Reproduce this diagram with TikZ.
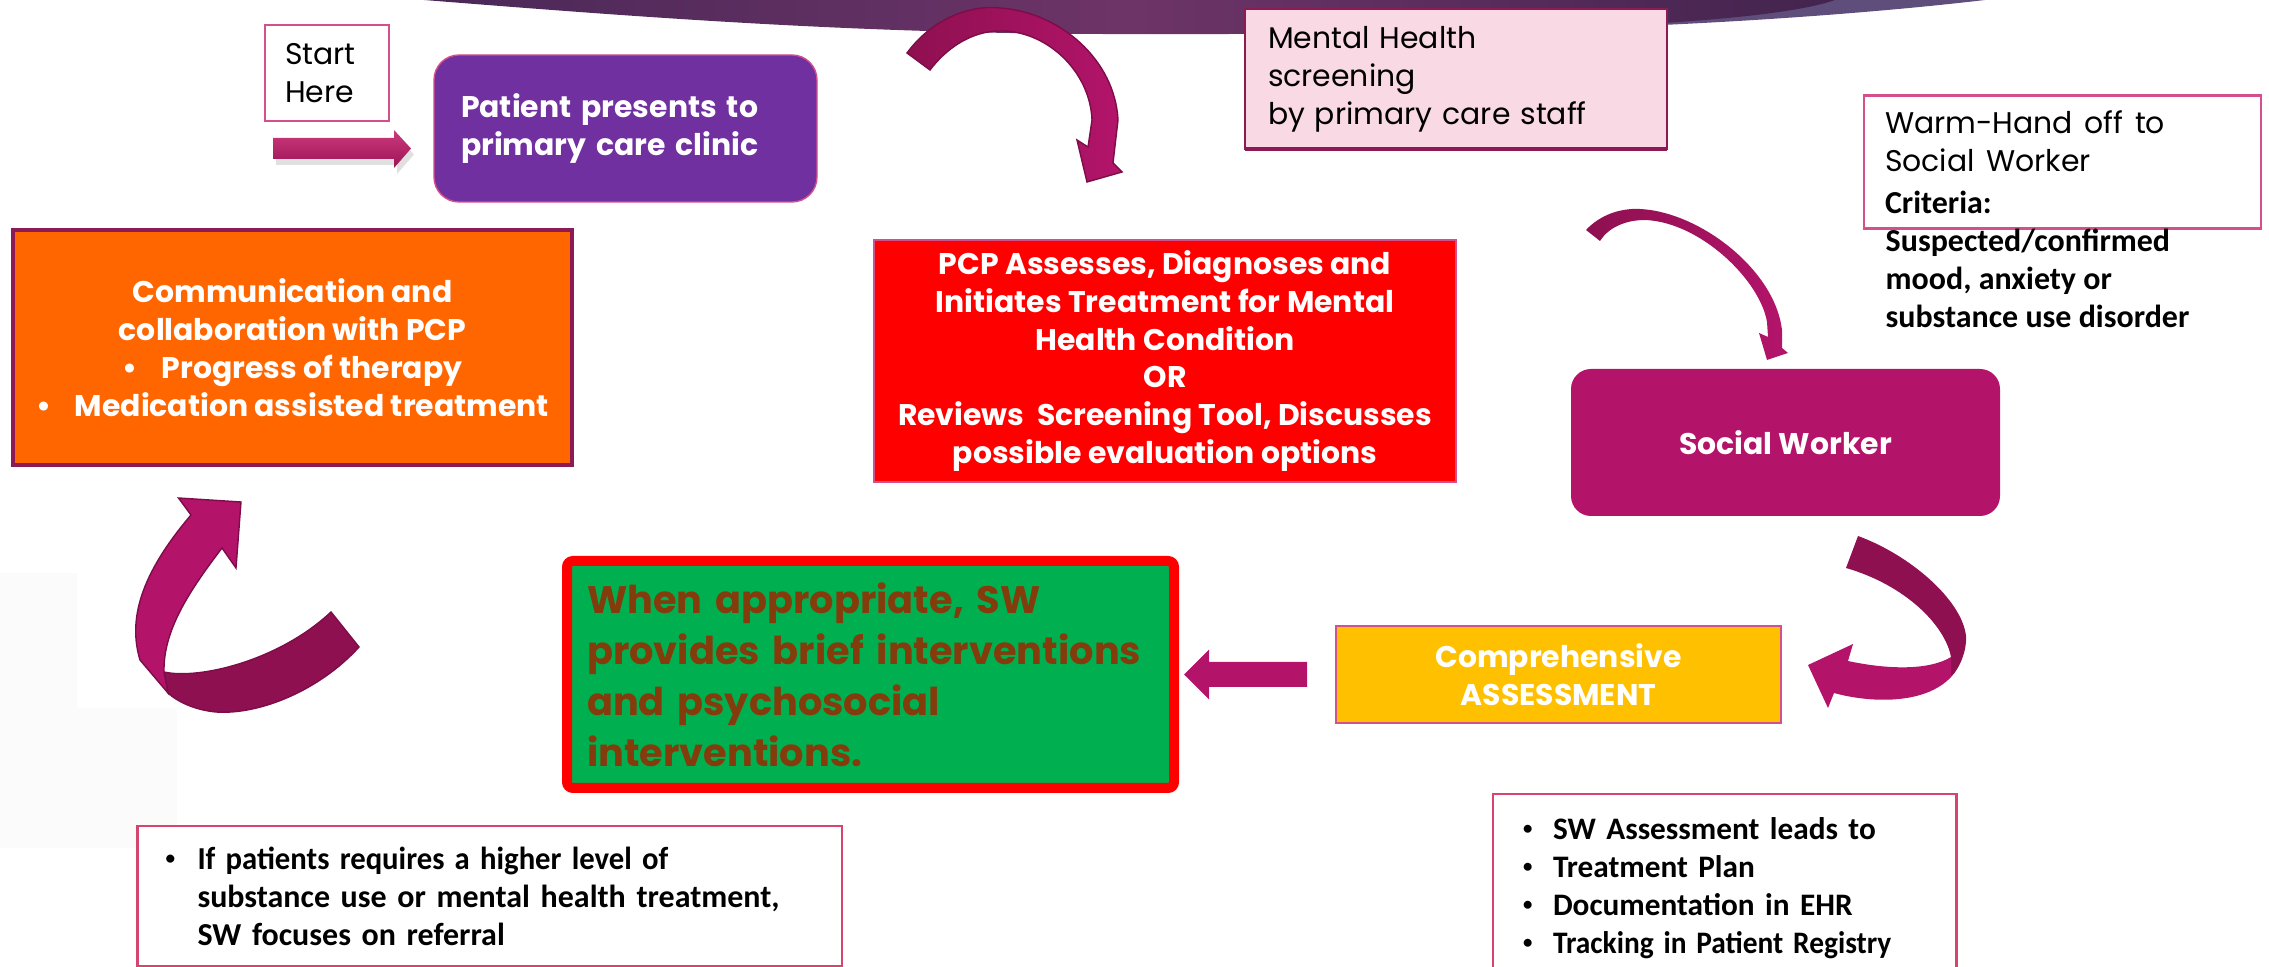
\documentclass[tikz,border=0pt]{standalone}
\usepackage{fontspec}
\usepackage{graphicx}
\usetikzlibrary{calc}
\newfontfamily\gothic{Poppins}
\newfontfamily\calib{Carlito}
\hyphenpenalty=10000
\exhyphenpenalty=10000

% type sizes used on the chart
\newcommand\regtext{\gothic\fontsize{8.5}{10.8}\selectfont}
\newcommand\boldtext{\gothic\bfseries\fontsize{8.5}{10.8}\selectfont}
\newcommand\calbold{\calib\bfseries\fontsize{9.1}{10.8}\selectfont}
\newcommand\planbold{\calib\bfseries\fontsize{8.9}{10.8}\selectfont}
\newcommand\brieftext{\gothic\bfseries\fontsize{10.9}{14.5}\selectfont}
\newcommand\bul[1]{\makebox[#1][l]{\raisebox{0.3ex}{\scalebox{0.6}{\textbullet}}}}

\definecolor{clinicPurple}{HTML}{7030A0}
\definecolor{magentaA}{HTML}{B3146A}
\definecolor{magentaDark}{HTML}{8E1050}
\definecolor{arrowEdge}{HTML}{7E0C48}
\definecolor{pcpRed}{HTML}{FF0000}
\definecolor{commOrange}{HTML}{FF6600}
\definecolor{assessGold}{HTML}{FFC000}
\definecolor{swGreen}{HTML}{00B050}
\definecolor{swBrown}{HTML}{843C0C}
\definecolor{screenPink}{HTML}{F9D9E3}
\definecolor{edgePink}{HTML}{D4508C}
\definecolor{edgeWine}{HTML}{8B1A55}
\definecolor{edgeRose}{HTML}{D4456F}
\definecolor{bannerDark}{HTML}{4A2858}
\definecolor{bannerMid}{HTML}{6D3467}
\definecolor{bannerRight}{HTML}{43244F}
\definecolor{bannerLight}{HTML}{5F4E7B}
\definecolor{startTop}{HTML}{CC3A7C}
\definecolor{startBottom}{HTML}{9C1457}

\tikzset{
  box/.style={inner ysep=0pt, outer sep=0pt},
  startbox/.style={box, draw=edgePink, line width=0.5pt, fill=white,
    minimum height=9.6mm, text width=8.4mm, inner xsep=2mm, align=left, font=\regtext},
  clinicbox/.style={box, rounded corners=2.5mm, fill=clinicPurple, draw=edgePink,
    line width=0.4pt, minimum height=14.7mm, text width=32.9mm, inner xsep=2.7mm,
    align=left, text=white, font=\boldtext},
  screenbox/.style={box, fill=screenPink, draw=edgeWine, line width=0.7pt,
    minimum height=14mm, text width=37.6mm, inner xsep=2.3mm, align=left, font=\regtext},
  warmbox/.style={box, fill=white, draw=edgePink, line width=0.6pt,
    minimum height=13.3mm, text width=35.5mm, inner xsep=2.1mm, align=left},
  crittext/.style={inner sep=0pt, align=left, font=\calbold},
  pcpbox/.style={box, inner xsep=0pt, fill=pcpRed, draw=edgePink, line width=0.3pt,
    minimum width=58.2mm, minimum height=24.2mm, align=center, text=white, font=\boldtext},
  commbox/.style={box, inner xsep=0pt, fill=commOrange, draw=edgeWine, line width=1.1pt,
    minimum width=55.9mm, minimum height=23.5mm, align=center, text=white, font=\boldtext},
  swbox/.style={box, inner xsep=0pt, rounded corners=2mm, fill=magentaA,
    minimum width=42.9mm, minimum height=14.7mm, align=center, text=white, font=\boldtext},
  assessbox/.style={box, inner xsep=0pt, fill=assessGold, draw=edgePink, line width=0.4pt,
    minimum width=44.5mm, minimum height=9.7mm, align=center, text=white, font=\boldtext},
  briefbox/.style={box, fill=swGreen, draw=pcpRed, line width=1mm, rounded corners=0.6mm,
    minimum height=22.7mm, text width=56.7mm, inner xsep=2mm, align=left,
    text=swBrown, font=\brieftext},
  listbox/.style={box, fill=white, draw=edgeRose, line width=0.6pt, align=left, font=\calbold},
  ribbonfront/.style={fill=magentaA, draw=arrowEdge, line width=0.4pt},
  ribbonback/.style={fill=magentaDark, draw=arrowEdge, line width=0.4pt},
  ribbonshade/.style={left color=magentaDark, right color=magentaA, draw=arrowEdge, line width=0.4pt},
}

\begin{document}
\begin{tikzpicture}[x=0.1mm,y=-0.1mm]
\path[use as bounding box] (0,0) rectangle (2269,967);
\clip (0,0) rectangle (2269,967);

% header swoosh
\fill[bannerLight] (1560,-10) -- (1995,-10) -- (1985,0)
  .. controls (1900,10) and (1780,20) .. (1640,26) -- cycle;
\path[left color=bannerDark, right color=bannerRight, middle color=bannerMid]
  (424,-10) -- (424,0) .. controls (650,18) and (850,33) .. (1100,34)
  .. controls (1400,35) and (1750,30) .. (1835,0) -- (1835,-10) -- cycle;

% faint panel on the left edge
\fill[black!1.5] (0,573) rectangle (77,848);
\fill[black!1.5] (77,708) rectangle (177,848);

% boxes
\node[startbox] (start) at (327,73) {Start\\Here};
\node[clinicbox] (patient) at (625.5,128.5) {Patient presents to\\primary care clinic};
\node[screenbox] (screen) at (1456,79) {Mental Health\\screening\\by primary care staff};
\draw[edgeWine, line width=1.1pt] (screen.south west) -- (screen.south east);
\node[warmbox] (warm) at (2062.5,162)
  {\regtext Warm-Hand off to\\Social Worker\\\calbold Criteria:};
\node[crittext, anchor=north west] (criteria) at (1885,228)
  {Suspected/confirmed\\mood, anxiety or\\substance use disorder};
\node[commbox] (comm) at (292.5,347.5)
  {Communication and\\collaboration with PCP\\\textbullet\hspace{2.4mm}Progress of therapy\\\textbullet\hspace{2.4mm}Medication assisted treatment};
\node[pcpbox] (pcp) at (1165,361)
  {PCP Assesses, Diagnoses and\\Initiates Treatment for Mental\\Health Condition\\OR\\Reviews~ Screening Tool, Discusses\\possible evaluation options};
\node[swbox] (social) at (1785.5,442.5) {Social Worker};
\node[assessbox] (assess) at (1558.5,674.5) {Comprehensive\\ASSESSMENT};
\node[briefbox] (brief) at (870.5,674.5)
  {\mbox{When appropriate, SW}\\\mbox{provides brief interventions}\\\mbox{and psychosocial}\\\mbox{interventions.}};
\node[listbox, minimum height=14mm, text width=64.85mm, inner xsep=2.8mm] (refer) at (489.75,896)
  {\mbox{\bul{3.2mm}\scalebox{0.96}[1]{If patients requires a higher level of}}\\\mbox{\hspace*{3.2mm}substance use or mental health treatment,}\\\mbox{\hspace*{3.2mm}SW focuses on referral}};
\node[listbox, font=\planbold, minimum height=18.8mm, text width=40.35mm, inner xsep=3mm] (plan) at (1724.75,888)
  {\mbox{\bul{3mm}SW Assessment leads to}\\\mbox{\bul{3mm}Treatment Plan}\\\mbox{\bul{3mm}Documentation in EHR}\\\mbox{\bul{3mm}\scalebox{0.94}[1]{Tracking in Patient Registry}}};

% block arrow into the clinic box
\coordinate (startTail) at (273,148.5);
\begin{scope}[shift={(startTail)}]
  \fill[black, opacity=0.12, shift={(3,6)}]
    (0,-10.5) -- (121,-10.5) -- (121,-18.5) -- (138,0) -- (121,19.5) -- (121,10.5) -- (0,10.5) -- cycle;
  \path[top color=startTop, bottom color=startBottom]
    (0,-10.5) -- (121,-10.5) -- (121,-18.5) -- (138,0) -- (121,19.5) -- (121,10.5) -- (0,10.5) -- cycle;
\end{scope}

% block arrow from the assessment to the interventions
\coordinate (assessTail) at (1307,674.5);
\fill[magentaA, shift={(assessTail)}]
  (0,-12.5) -- (-98,-12.5) -- (-98,-25) -- (-123,0) -- (-98,25) -- (-98,12.5) -- (0,12.5) -- cycle;

% ribbon arrow: clinic -> PCP
\path[ribbonshade]
  (907,53) .. controls (935,15) and (975,5) .. (1000,8)
  .. controls (1060,12) and (1115,60) .. (1118,120) -- (1113,163) -- (1122,172)
  -- (1087,182) -- (1077,140) -- (1088,147) -- (1092,120)
  .. controls (1090,70) and (1045,30) .. (1000,31)
  .. controls (970,31) and (945,50) .. (930,70) -- cycle;

% ribbon arrow: hand-off -> social worker
\path[left color=magentaDark, right color=magentaA]
  (1586,230) .. controls (1600,215) and (1620,208) .. (1640,209)
  .. controls (1700,212) and (1775,270) .. (1782,330) -- (1782,348) -- (1788,353)
  -- (1767,360) -- (1759,333) -- (1768,337) -- (1767,322)
  .. controls (1760,280) and (1700,222) .. (1645,220)
  .. controls (1625,220) and (1608,228) .. (1600,241) -- cycle;

% ribbon arrow: social worker -> assessment
\fill[magentaDark]
  (1858,536) .. controls (1910,555) and (1962,600) .. (1966,636)
  .. controls (1967,650) and (1960,668) .. (1951,677) -- (1951,657)
  .. controls (1945,625) and (1905,585) .. (1846,568) -- cycle;
\fill[magentaA]
  (1951,657) .. controls (1930,670) and (1890,670) .. (1848,661)
  -- (1853,644) -- (1808,665) -- (1828,708) -- (1834,693)
  .. controls (1870,703) and (1925,705) .. (1951,677) -- cycle;

% ribbon arrow: referral -> communication
\path[ribbonback]
  (164,672) .. controls (200,680) and (280,660) .. (331,612) -- (359,647)
  .. controls (320,690) and (260,715) .. (216,712)
  .. controls (195,710) and (178,702) .. (168,693) -- cycle;
\path[ribbonfront]
  (191,515) -- (178.5,498) -- (241,502) -- (236,568) -- (222,548)
  .. controls (190,590) and (163,630) .. (164,672) -- (168,693) -- (140,660)
  .. controls (128,620) and (140,575) .. (191,515) -- cycle;

\end{tikzpicture}
\end{document}
